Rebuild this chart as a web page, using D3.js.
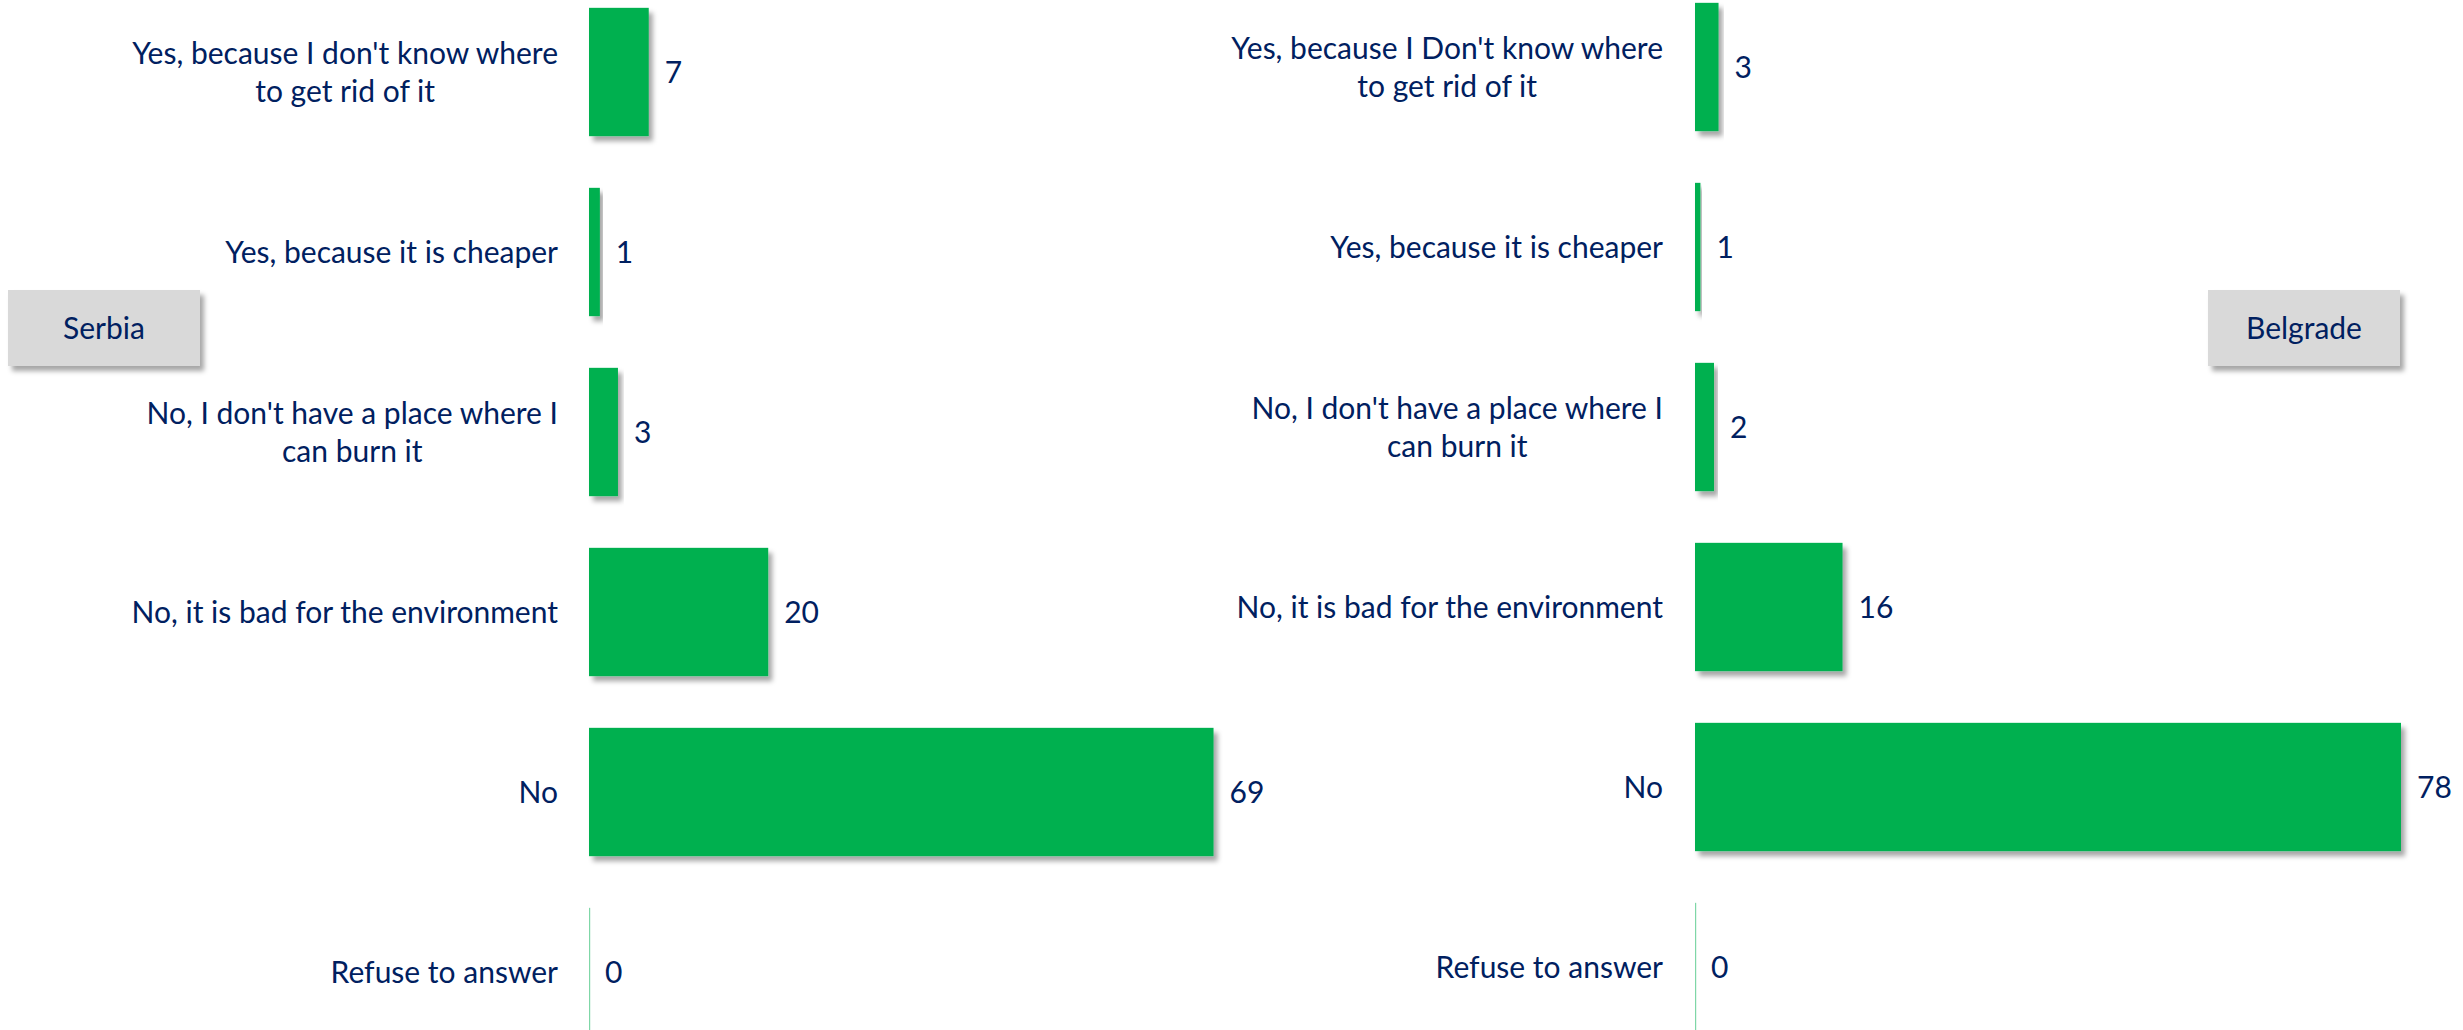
<!DOCTYPE html>
<html>
<head>
<meta charset="utf-8">
<script src="https://cdn.jsdelivr.net/npm/d3@7"></script>
<style>
  body { margin: 0; background: #fff; }
  svg { display: block; }
  text { font-family: Lato, "Open Sans", sans-serif; fill: #002060; }
</style>
</head>
<body>
<svg id="svgmain" width="2463" height="1030"></svg>
<script>
// answers, top to bottom ("\n" = line break as in the original)
var serbiaCategories = [
  "Yes, because I don't know where\nto get rid of it",
  "Yes, because it is cheaper",
  "No, I don't have a place where I\ncan burn it",
  "No, it is bad for the environment",
  "No",
  "Refuse to answer"
]
var belgradeCategories = [
  "Yes, because I Don't know where\nto get rid of it",
  "Yes, because it is cheaper",
  "No, I don't have a place where I\ncan burn it",
  "No, it is bad for the environment",
  "No",
  "Refuse to answer"
]
// percentages (labels show them rounded)
var serbiaValues = [6.6, 1.2, 3.2, 19.8, 69.0, 0]
var belgradeValues = [2.6, 0.6, 2.1, 16.3, 78.0, 0]
var panelTitles = ["Serbia", "Belgrade"]

var svg = d3.select("#svgmain")
var defs = svg.append("defs")
defs.append("filter").attr("id", "shadow")
  .attr("x", "-20%").attr("y", "-20%").attr("width", "140%").attr("height", "140%")
  .append("feDropShadow")
  .attr("dx", 4).attr("dy", 5).attr("stdDeviation", 2.5)
  .attr("flood-color", "#000").attr("flood-opacity", 0.35)

var fontSize = 30
var lineHeight = 38

// same value scale for both panels
var x = d3.scaleLinear().domain([0, 78]).range([0, 706])

function drawPanel(opts) {
  var g = svg.append("g").attr("transform", "translate(" + opts.left + ",0)")
  var y = d3.scaleBand()
    .domain(opts.categories)
    .range(opts.yRange)
    .paddingInner(0.287)
    .paddingOuter(0.1435)

  var rows = g.selectAll(".row").data(opts.categories).enter()
    .append("g").attr("class", "row")

  // bars
  rows.append("rect")
    .attr("x", 0)
    .attr("y", function(d) { return y(d) })
    .attr("height", y.bandwidth())
    .attr("width", function(d, i) { return Math.max(x(opts.values[i]), 1.2) })
    .attr("fill", "#00b050")
    .attr("fill-opacity", function(d, i) { return opts.values[i] > 0 ? 1 : 0.5 })
    .attr("filter", function(d, i) { return opts.values[i] > 0 ? "url(#shadow)" : null })

  // value labels
  rows.append("text")
    .attr("x", function(d, i) { return x(opts.values[i]) + 16 })
    .attr("y", function(d) { return y(d) + y.bandwidth() / 2 })
    .attr("dy", "0.36em")
    .style("font-size", fontSize + "px")
    .text(function(d, i) { return Math.round(opts.values[i]) })

  // category labels: lines centred among themselves, block right-aligned
  rows.each(function(d) {
    var lines = d.split("\n")
    var t = d3.select(this).append("text")
      .attr("text-anchor", "middle")
      .style("font-size", fontSize + "px")
    var cy = y(d) + y.bandwidth() / 2
    var top = cy - (lines.length - 1) * lineHeight / 2
    var spans = t.selectAll("tspan").data(lines).enter().append("tspan")
      .attr("y", function(l, k) { return top + k * lineHeight })
      .attr("dy", "0.36em")
      .text(function(l) { return l })
    var maxW = 0
    spans.each(function() { maxW = Math.max(maxW, this.getComputedTextLength()) })
    spans.attr("x", -opts.labelGap - maxW / 2)
  })

  // panel title box
  var box = svg.append("g").attr("transform", "translate(" + opts.boxX + ",290)")
  box.append("rect")
    .attr("width", 192).attr("height", 76)
    .attr("fill", "#d9d9d9")
    .attr("filter", "url(#shadow)")
  box.append("text")
    .attr("x", 96).attr("y", 38).attr("dy", "0.36em")
    .attr("text-anchor", "middle")
    .style("font-size", fontSize + "px")
    .text(opts.title)
}

drawPanel({
  left: 589, categories: serbiaCategories, values: serbiaValues,
  yRange: [-18, 1062], labelGap: 31, title: panelTitles[0], boxX: 8
})
drawPanel({
  left: 1695, categories: belgradeCategories, values: belgradeValues,
  yRange: [-23, 1057], labelGap: 32, title: panelTitles[1], boxX: 2208
})
</script>
</body>
</html>
